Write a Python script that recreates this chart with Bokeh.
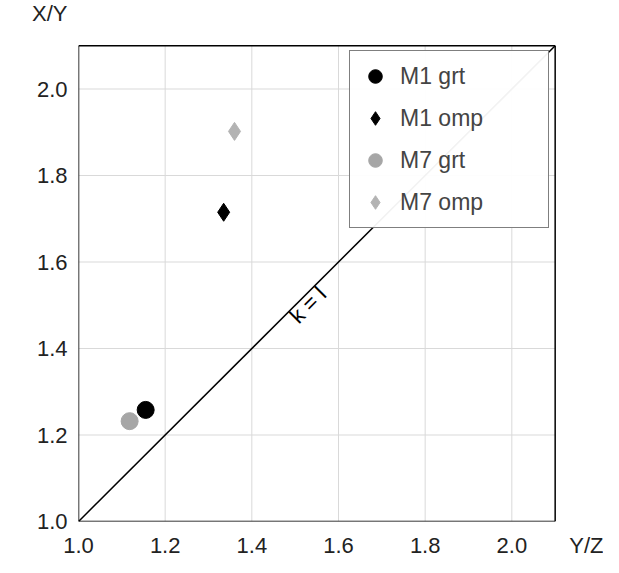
from bokeh.plotting import figure
from bokeh.models import Label, Legend, LegendItem, FixedTicker, Range1d
from bokeh.embed import file_html
from bokeh.resources import INLINE

series = ["M1 grt", "M1 omp", "M7 grt", "M7 omp"]
yz = [1.155, 1.335, 1.118, 1.36]
xy = [1.258, 1.715, 1.232, 1.902]
markers = ["circle", "diamond", "circle", "diamond"]
colors = ["#000000", "#000000", "#a6a6a6", "#b3b3b3"]
ticks = [1.0, 1.2, 1.4, 1.6, 1.8, 2.0]
tick_labels = ["1.0", "1.2", "1.4", "1.6", "1.8", "2.0"]
lo, hi = 1.0, 2.1
line_k = [lo, hi]
x_title, y_title = "Y/Z", "X/Y"
title_pos = 2.175

p = figure(width=603, height=565, output_backend="svg", toolbar_location=None,
           x_range=Range1d(1.0, 2.2), y_range=Range1d(1.0, 2.2),
           min_border_left=78, min_border_right=5, min_border_top=2, min_border_bottom=44)
p.outline_line_color = None
p.xgrid.visible = False
p.ygrid.visible = False
for ax, ttl in ((p.xaxis[0], x_title), (p.yaxis[0], y_title)):
    ax.ticker = FixedTicker(ticks=ticks + [title_pos])
    ax.major_label_overrides = dict(zip(ticks + [title_pos], tick_labels + [ttl]))
    ax.major_label_text_font = "Liberation Sans"
    ax.major_label_text_font_size = "22px"
    ax.major_label_text_color = "#222222"
    ax.minor_tick_line_color = None
    ax.major_tick_line_color = None
    ax.axis_line_color = None

# grid
n = len(ticks)
p.segment(ticks, [lo] * n, ticks, [hi] * n, line_color="#d9d9d9", line_width=1)
p.segment([lo] * n, ticks, [hi] * n, ticks, line_color="#d9d9d9", line_width=1)
# frame
p.segment([lo, lo, lo, hi], [lo, hi, lo, lo], [hi, hi, lo, hi], [lo, hi, hi, hi],
          line_color="black", line_width=1.5)

p.line(line_k, line_k, line_color="black", line_width=1.5)
p.add_layout(Label(x=1.55, y=1.48, text="k = l", angle=45, angle_units="deg",
                   text_font="Liberation Sans", text_font_size="22px", text_align="center",
                   text_color="black"))

items = []
for i, name in enumerate(series):
    size = 17 if markers[i] == "circle" else 18
    r = p.scatter([yz[i]], [xy[i]], marker=markers[i], size=size,
                  fill_color=colors[i], line_color=colors[i])
    items.append(LegendItem(label=name, renderers=[r]))
leg = Legend(items=items, location=(271, 293), label_text_font="Liberation Sans",
             label_text_font_size="23px", border_line_color="black", border_line_width=1.5,
             glyph_width=34, glyph_height=34, spacing=8, padding=8, margin=0,
             label_standoff=8, label_width=140)
p.add_layout(leg)

open("out.html", "w").write(file_html(p, INLINE))
